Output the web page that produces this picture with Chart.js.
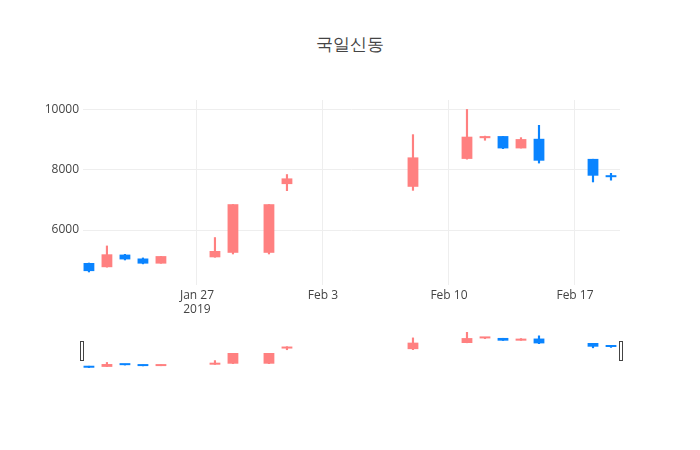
<!DOCTYPE html>
<html>
<head>
<meta charset="utf-8">
<script src="https://cdn.jsdelivr.net/npm/chart.js@4"></script>
<style>
  body { margin: 0; background: #fff; font-family: "Open Sans", sans-serif; }
  #wrap { position: relative; width: 700px; height: 450px; }
  #title { position: absolute; top: 32px; width: 700px; text-align: center; font-size: 17px; color: #444; }
  #main { position: absolute; left: 0; top: 0; }
  #slider { position: absolute; left: 78px; top: 332px; }
</style>
</head>
<body>
<div id="wrap">
  <div id="title">국일신동</div>
  <canvas id="main" width="700" height="330"></canvas>
  <canvas id="slider" width="546" height="40"></canvas>
</div>
<script>
// days relative to Jan 27 2019
const days = [-6, -5, -4, -3, -2, 1, 2, 4, 5, 12, 15, 16, 17, 18, 19, 22, 23];
const open = [4900, 4760, 5180, 5050, 4880, 5090, 5240, 5240, 7530, 7440, 8370, 9060, 9130, 8720, 9040, 8370, 7790];
const close = [4630, 5190, 5020, 4880, 5130, 5300, 6860, 6860, 7720, 8420, 9110, 9130, 8720, 9030, 8310, 7810, 7760];
const high = [4910, 5480, 5200, 5080, 5130, 5760, 6860, 6860, 7860, 9190, 10030, 9140, 9130, 9090, 9500, 8370, 7900];
const low = [4590, 4750, 4990, 4860, 4880, 5080, 5190, 5190, 7300, 7310, 8350, 8980, 8700, 8720, 8220, 7590, 7650];
const tickDays = [0, 7, 14, 21];
const tickLabels = [["Jan 27", "2019"], "Feb 3", "Feb 10", "Feb 17"];
const yTicks = [6000, 8000, 10000];

const UP = "#ff8080";
const DOWN = "#0a84ff";
const colors = days.map((d, i) => close[i] >= open[i] ? UP : DOWN);

function datasets(wickPct, bodyPct) {
    return [
        {
            data: days.map((d, i) => ({ x: d, y: [low[i], high[i]] })),
            backgroundColor: colors,
            barPercentage: wickPct,
            categoryPercentage: 1,
            grouped: false
        },
        {
            data: days.map((d, i) => ({ x: d, y: [open[i], close[i]] })),
            backgroundColor: colors,
            barPercentage: bodyPct,
            categoryPercentage: 1,
            grouped: false,
            minBarLength: 2
        }
    ];
}

new Chart(document.getElementById("main"), {
    type: "bar",
    data: { datasets: datasets(0.12, 0.6) },
    options: {
        responsive: false,
        animation: false,
        layout: { padding: { top: 100, right: 80, left: 0, bottom: 0 } },
        plugins: { legend: { display: false }, tooltip: { enabled: false } },
        scales: {
            x: {
                type: "linear",
                offset: false,
                min: -6.33,
                max: 23.5,
                afterBuildTicks: s => { s.ticks = tickDays.map(v => ({ value: v })); },
                afterFit: s => { s.height = 45; },
                ticks: {
                    color: "#444",
                    font: { family: "Open Sans", size: 12 },
                    callback: v => tickLabels[tickDays.indexOf(v)],
                    maxRotation: 0
                },
                grid: { color: "#eee", drawTicks: false, offset: false },
                border: { display: false }
            },
            y: {
                min: 4167,
                max: 10333,
                afterBuildTicks: s => { s.ticks = yTicks.map(v => ({ value: v })); },
                afterFit: s => { s.width = 83; },
                ticks: {
                    color: "#444",
                    font: { family: "Open Sans", size: 12 },
                    padding: 4,
                    callback: v => String(v)
                },
                grid: { color: "#eee", drawTicks: false },
                border: { display: false }
            }
        }
    }
});

const sliderFrame = {
    id: "sliderFrame",
    afterDraw(chart) {
        const c = chart.ctx, a = chart.chartArea;
        c.save();
        c.strokeStyle = "#444";
        c.fillStyle = "#fff";
        c.lineWidth = 1;
        [a.left - 3, a.right - 1].forEach(x => {
            c.fillRect(x, 9.5, 4, 19);
            c.strokeRect(x + 0.5, 9.5, 3, 19);
        });
        c.restore();
    }
};

new Chart(document.getElementById("slider"), {
    type: "bar",
    data: { datasets: datasets(0.12, 0.6) },
    plugins: [sliderFrame],
    options: {
        responsive: false,
        animation: false,
        layout: { padding: { left: 5, right: 4, top: 0, bottom: 4 } },
        plugins: { legend: { display: false }, tooltip: { enabled: false } },
        scales: {
            x: { type: "linear", offset: false, min: -6.33, max: 23.5, display: false },
            y: { min: 4590, max: 10030, display: false }
        }
    }
});
</script>
</body>
</html>
